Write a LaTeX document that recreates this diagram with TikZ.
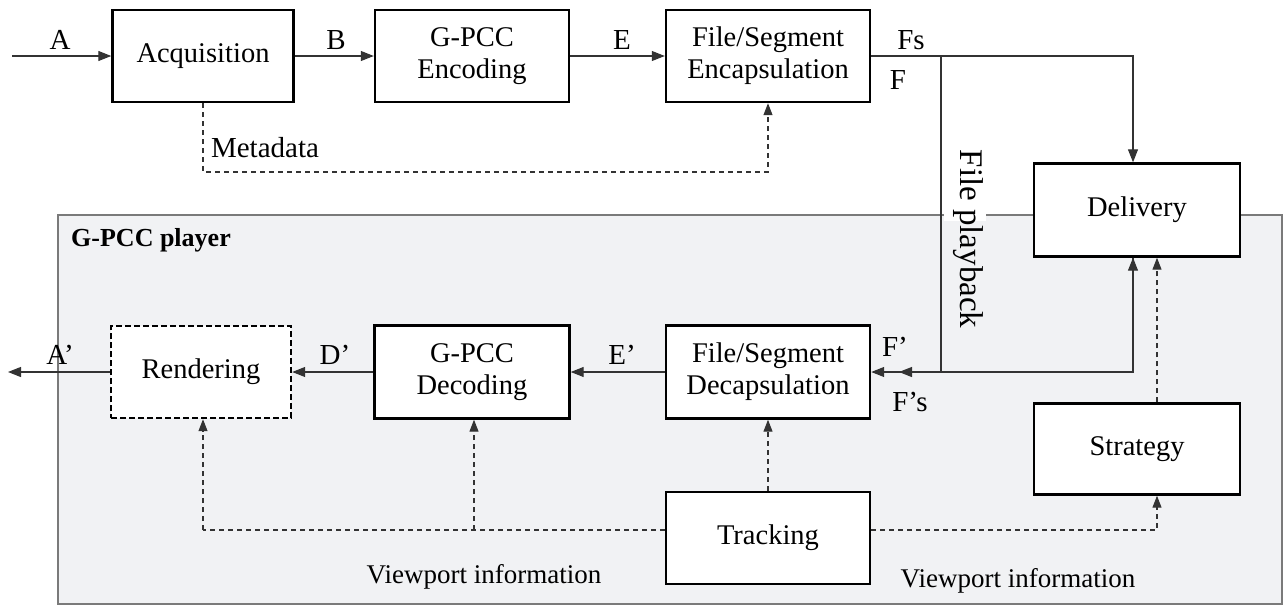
\documentclass[tikz,border=0pt]{standalone}
\usepackage{fontspec}
\setmainfont{Liberation Serif}
\usetikzlibrary{arrows.meta}
\definecolor{playerfill}{HTML}{F1F2F4}
\definecolor{playerline}{HTML}{7A7A7A}
\definecolor{linecol}{HTML}{333333}
\tikzset{
  blk/.style={draw=black, line width=2.4pt, fill=white, align=center, inner sep=0pt,
    font=\fontsize{28.5}{32}\selectfont},
  lbl/.style={font=\fontsize{29}{32}\selectfont, inner sep=0pt},
  conn/.style={draw=linecol, line width=1.1pt, -{Triangle[length=13pt,width=10pt]}},
  plain/.style={draw=linecol, line width=1.1pt},
  dconn/.style={draw=linecol, line width=1.1pt, dash pattern=on 5pt off 4pt, -{Triangle[length=12pt,width=9pt]}},
  dplain/.style={draw=linecol, line width=1.1pt, dash pattern=on 5pt off 4pt},
}
\begin{document}
\begin{tikzpicture}[x=1pt,y=-1pt]
\useasboundingbox (0,0) rectangle (1288,608);
% player box
\draw[fill=playerfill, draw=playerline, line width=2pt] (58,215) rectangle (1282,604);
\fill[white] (944,210) rectangle (986,221);
\node[lbl, font=\fontsize{26}{30}\selectfont\bfseries] (player) at (151,240) {G-PCC player};

% top row
\node[blk, minimum width=181pt, minimum height=92pt] (acq) at (203,56) {Acquisition};
\node[blk, minimum width=194pt, minimum height=92pt] (enc) at (472,56) {G-PCC\\Encoding};
\node[blk, minimum width=204pt, minimum height=92pt] (encap) at (768,56) {File/Segment\\Encapsulation};
\node[blk, minimum width=206pt, minimum height=93pt] (del) at (1137,210) {Delivery};

% bottom row
\node[blk, dash pattern=on 6pt off 3pt, minimum width=180pt, minimum height=92pt] (ren) at (201,372) {Rendering};
\node[blk, minimum width=195pt, minimum height=93pt] (dec) at (472,372) {G-PCC\\Decoding};
\node[blk, minimum width=204pt, minimum height=93pt] (decap) at (768,372) {File/Segment\\Decapsulation};
\node[blk, minimum width=206pt, minimum height=91pt] (str) at (1137,449) {Strategy};
\node[blk, minimum width=204pt, minimum height=92pt] (trk) at (768,538) {Tracking};

% coordinates
\coordinate (in) at (12,56);
\coordinate (out) at (8,372);
\coordinate (fsturn) at (1133,56);
\coordinate (fpTop) at (941,56);
\coordinate (fpBot) at (941,372);
\coordinate (fpEnd) at (899,372);
\coordinate (fdTurn) at (1133,372);
\coordinate (m1) at (203,172);
\coordinate (m2) at (768,172);
\coordinate (t1) at (203,530);
\coordinate (t2) at (474,530);
\coordinate (t3) at (1157,530);

% top connectors
\draw[conn] (in) -- (acq.west);
\draw[conn] (acq.east) -- (enc.west);
\draw[conn] (enc.east) -- (encap.west);
\draw[conn] (encap.east) -- (fsturn) -- (del.north -| fsturn);
\draw[dconn] (acq.south -| m1) -- (m1) -- (m2) -- (encap.south);

% file playback
\draw[conn] (fpTop) -- (fpBot) -- (fpEnd);
\draw[conn] (del.south -| fdTurn) -- (fdTurn) -- (decap.east);
\draw[conn] (fdTurn) -- (del.south -| fdTurn);
\draw[dconn] (str.north -| t3) -- (del.south -| t3);

% bottom connectors
\draw[conn] (decap.west) -- (dec.east);
\draw[conn] (dec.west) -- (ren.east);
\draw[conn] (ren.west) -- (out);
\draw[dconn] (trk.north) -- (decap.south);
\draw[dplain] (trk.west |- t1) -- (t1);
\draw[dconn] (t1) -- (ren.south -| t1);
\draw[dconn] (t2) -- (dec.south -| t2);
\draw[dconn] (trk.east |- t3) -- (t3) -- (str.south -| t3);

% labels
\node[lbl] (lA) at (60,40) {A};
\node[lbl] (lB) at (336,40) {B};
\node[lbl] (lE) at (622,40) {E};
\node[lbl] (lFs) at (911,40) {Fs};
\node[lbl] (lF) at (898,80) {F};
\node[lbl] (lMeta) at (265,148) {Metadata};
\node[lbl, font=\fontsize{33}{36}\selectfont, rotate=-90] (lfp) at (968,239) {File playback};
\node[lbl] (lA2) at (60,355) {A’};
\node[lbl] (lD2) at (335,355) {D’};
\node[lbl] (lE2) at (622,355) {E’};
\node[lbl] (lF2) at (895,347) {F’};
\node[lbl] (lFs2) at (910,402) {F’s};
\node[lbl, font=\fontsize{27}{30}\selectfont] (lvp1) at (484,577) {Viewport information};
\node[lbl, font=\fontsize{27}{30}\selectfont] (lvp2) at (1018,581) {Viewport information};
\end{tikzpicture}
\end{document}
